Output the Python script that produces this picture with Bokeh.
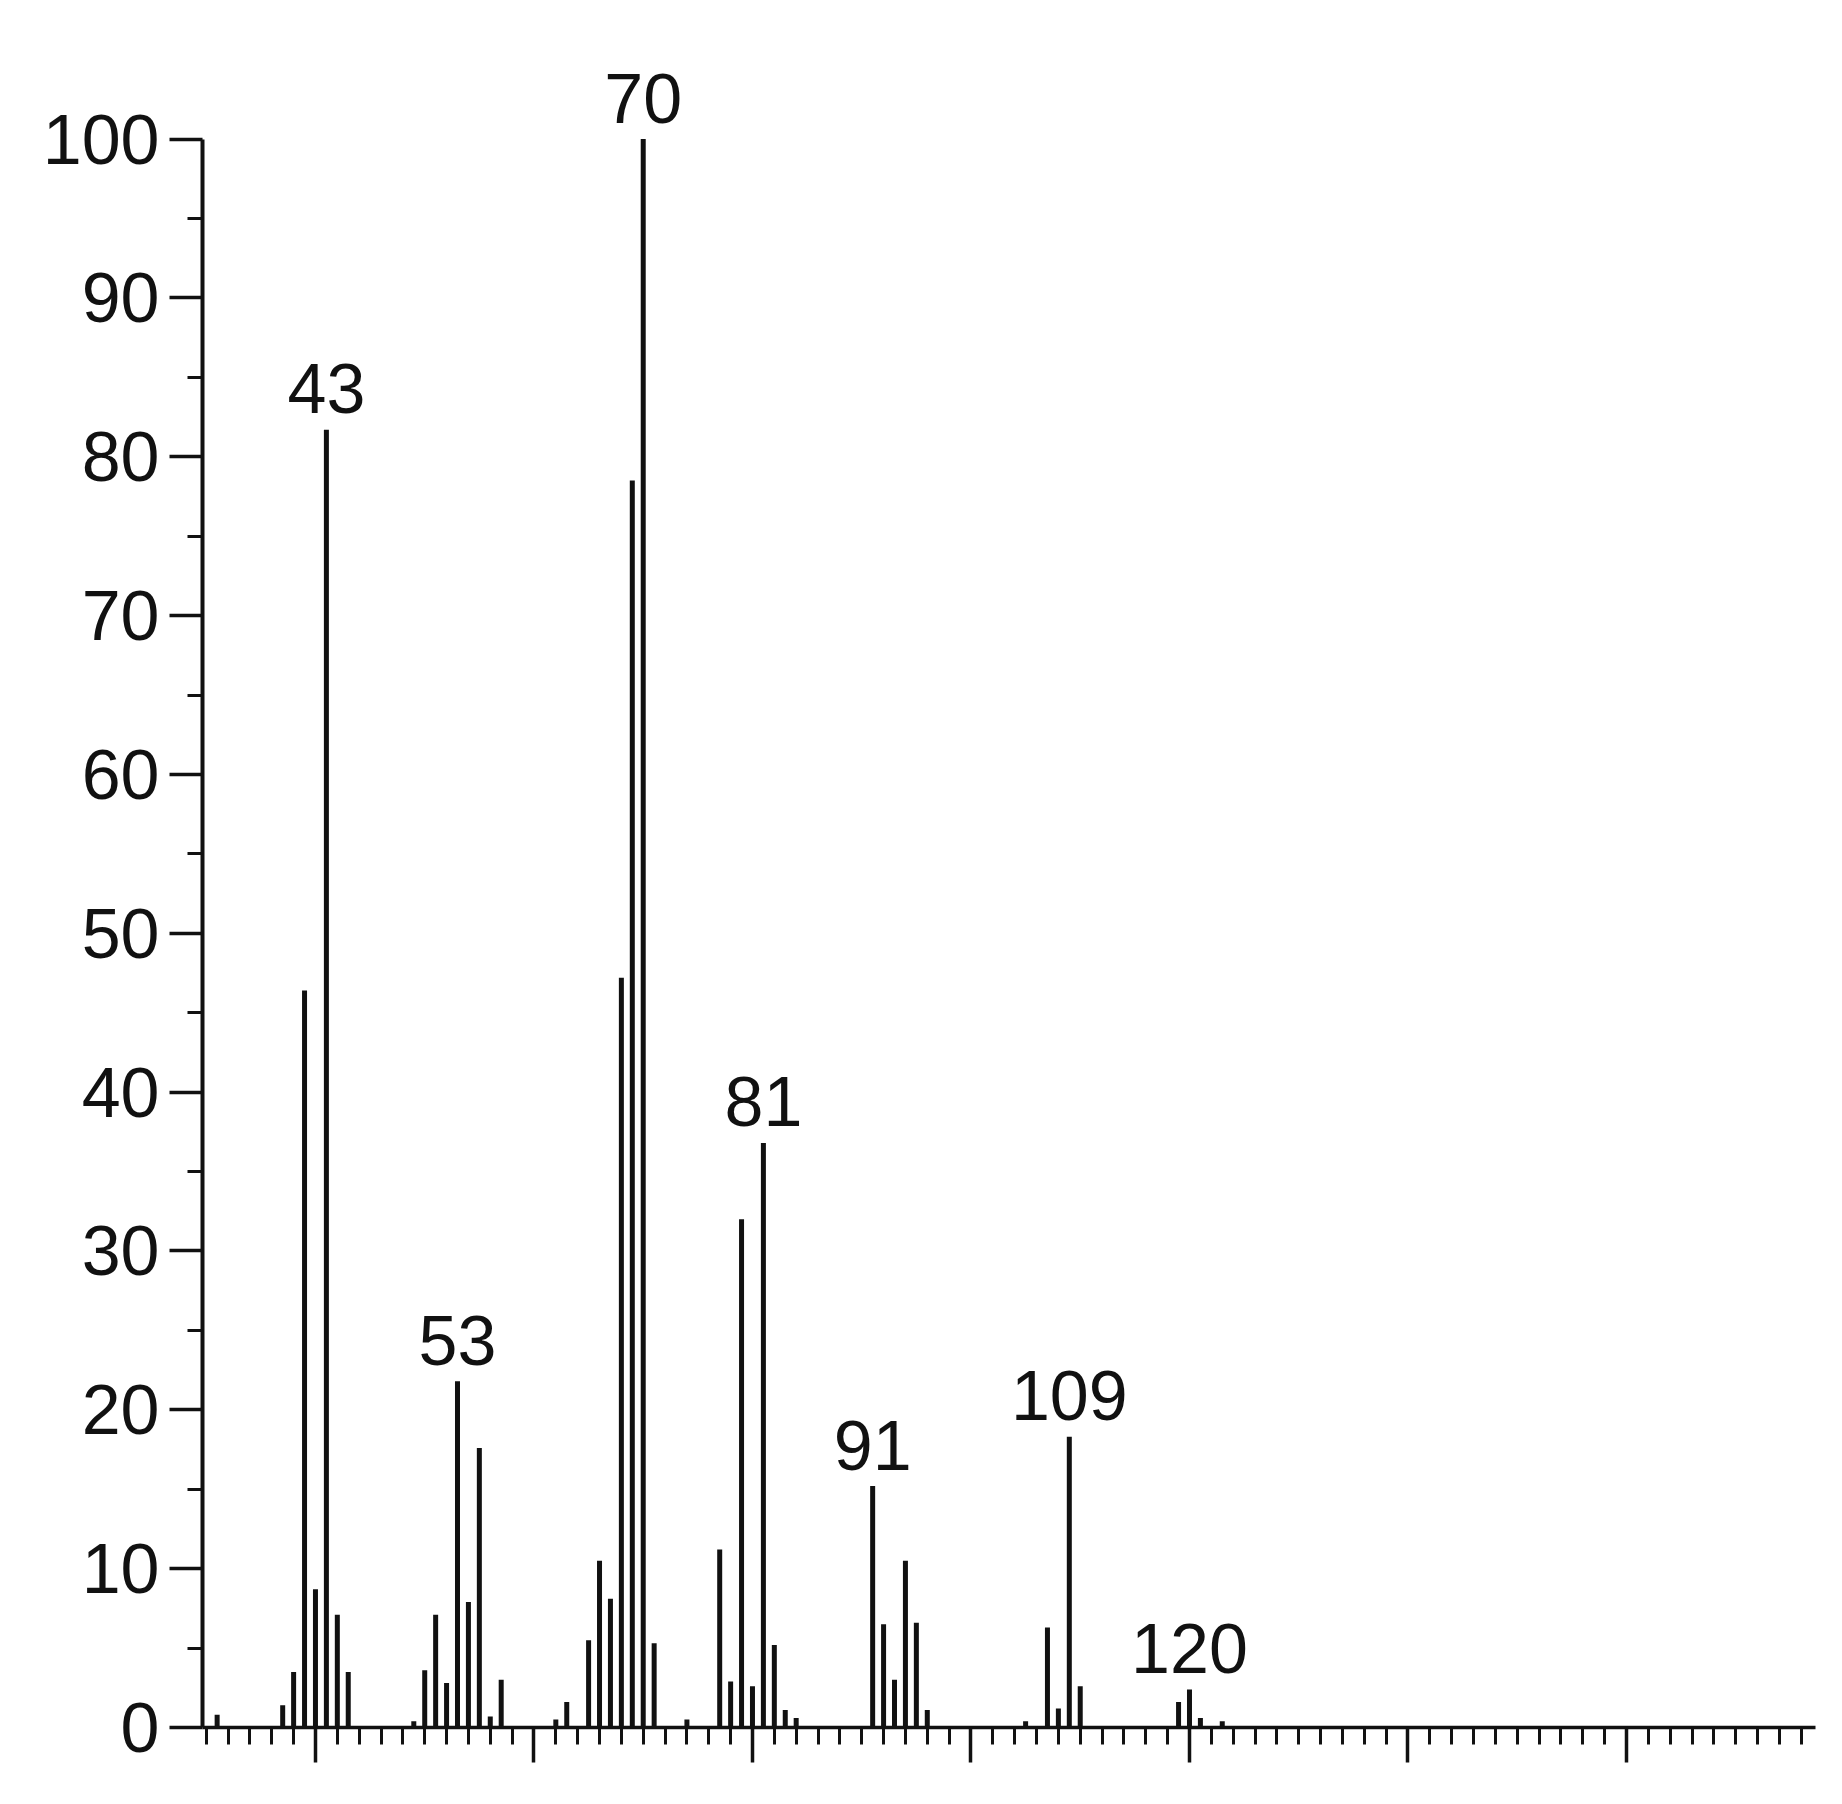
from bokeh.plotting import figure
from bokeh.models import Range1d, FixedTicker, ColumnDataSource
from bokeh.core.properties import value
from bokeh.embed import file_html
from bokeh.resources import INLINE

mz = [31, 37, 38, 39, 40, 41, 42, 43,
      49, 50, 51, 52, 53, 54, 55, 56, 57,
      62, 63, 65, 66, 67, 68, 69, 70, 71, 74,
      77, 78, 79, 80, 81, 82, 83, 84,
      91, 92, 93, 94, 95, 96,
      105, 107, 108, 109, 110,
      119, 120, 121, 123]
# relative intensity (%)
intensity = [0.8, 1.4, 3.5, 46.4, 8.7, 81.7, 7.1, 3.5,
             0.4, 3.6, 7.1, 2.8, 21.8, 7.9, 17.6, 0.7, 3.0,
             0.5, 1.6, 5.5, 10.5, 8.1, 47.2, 78.5, 100.0, 5.3, 0.5,
             11.2, 2.9, 32.0, 2.6, 36.8, 5.2, 1.1, 0.6,
             15.2, 6.5, 3.0, 10.5, 6.6, 1.1,
             0.4, 6.3, 1.2, 18.3, 2.6,
             1.6, 2.4, 0.6, 0.4]

# annotated peaks: label text and the peak it stands over
label_text = ["43", "53", "70", "81", "91", "109", "120"]
label_peak = [41, 53, 70, 81, 91, 109, 120]
label_y = [intensity[mz.index(m)] for m in label_peak]

y_ticks = list(range(0, 101, 10))
y_minor = list(range(5, 100, 10))
x_major = list(range(40, 161, 20))
x_minor = list(range(30, 177, 2))

FONT = "Liberation Sans"
INK = "#111111"

p = figure(width=1826, height=1788, output_backend="svg", toolbar_location=None,
           x_range=Range1d(29.66, 177.3), y_range=Range1d(0, 105.7),
           min_border_left=202, min_border_right=11,
           min_border_top=48, min_border_bottom=61)
p.grid.visible = False
p.outline_line_color = None
p.background_fill_color = "white"
p.border_fill_color = "white"

src = ColumnDataSource(dict(x=mz, y0=[0] * len(mz), y1=intensity))
p.segment(x0="x", y0="y0", x1="x", y1="y1", source=src,
          line_color=INK, line_width=5)

lsrc = ColumnDataSource(dict(x=label_peak, y=label_y, t=label_text))
p.text(x="x", y="y", text="t", source=lsrc,
       text_font=value(FONT), text_font_size="70px",
       text_align="center", text_baseline="alphabetic",
       y_offset=-41, text_color=INK)

# x axis: tick marks only, no labels
xa = p.xaxis[0]
xa.ticker = FixedTicker(ticks=x_major, minor_ticks=x_minor)
xa.axis_line_width = 3.5
xa.axis_line_color = INK
xa.major_tick_out = 35
xa.major_tick_in = 0
xa.minor_tick_out = 17
xa.minor_tick_in = 0
xa.major_tick_line_width = 3.5
xa.minor_tick_line_width = 3
xa.major_tick_line_color = INK
xa.minor_tick_line_color = INK
xa.major_label_text_color = None

# y axis
ya = p.yaxis[0]
ya.ticker = FixedTicker(ticks=y_ticks, minor_ticks=y_minor)
ya.bounds = (0, 100)
ya.axis_line_width = 4
ya.axis_line_color = INK
ya.major_tick_out = 33
ya.major_tick_in = 0
ya.minor_tick_out = 15
ya.minor_tick_in = 0
ya.major_tick_line_width = 3.5
ya.minor_tick_line_width = 3
ya.major_tick_line_color = INK
ya.minor_tick_line_color = INK
ya.major_label_standoff = 10
ya.major_label_text_font = FONT
ya.major_label_text_font_size = "70px"
ya.major_label_text_color = INK

open("out.html", "w").write(file_html(p, INLINE))
